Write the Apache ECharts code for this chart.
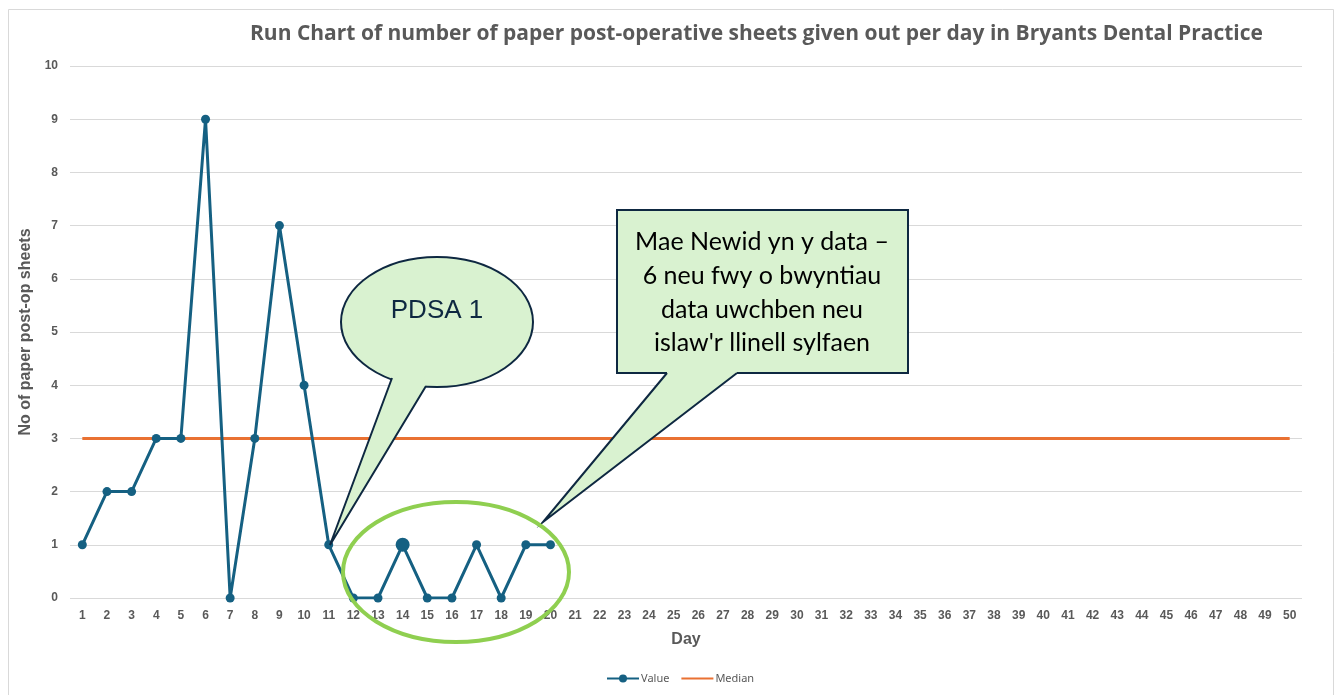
<!DOCTYPE html>
<html>
<head>
<meta charset="utf-8">
<script src="https://cdn.jsdelivr.net/npm/echarts@6/dist/echarts.min.js"></script>
<style>
html,body{margin:0;padding:0;background:#fff;}
#main{width:1339px;height:695px;}
</style>
</head>
<body>
<div id="main"></div>
<script>
const days = ['1','2','3','4','5','6','7','8','9','10','11','12','13','14','15','16','17','18','19','20','21','22','23','24','25','26','27','28','29','30','31','32','33','34','35','36','37','38','39','40','41','42','43','44','45','46','47','48','49','50'];
const values = [1,2,2,3,3,9,0,3,7,4,1,0,0,1,0,0,1,0,1,1];
const median = [3,3,3,3,3,3,3,3,3,3,3,3,3,3,3,3,3,3,3,3,3,3,3,3,3,3,3,3,3,3,3,3,3,3,3,3,3,3,3,3,3,3,3,3,3,3,3,3,3,3];
const yTicks = [0,1,2,3,4,5,6,7,8,9,10];
const titleText = 'Run Chart of number of paper post-operative sheets given out per day in Bryants Dental Practice';
const calloutPDSA = 'PDSA 1';
const calloutChange = ['Mae Newid yn y data \u2013', '6 neu fwy o bwyntiau', 'data uwchben neu', "islaw'r llinell sylfaen"];

const chart = echarts.init(document.getElementById('main'), null, {renderer:'canvas'});
const grey = '#595959';
const calloutFill = '#d9f2d0';
const calloutStroke = '#0e2841';

const option = {
  backgroundColor: '#fff',
  animation: false,
  title: {
    text: titleText,
    left: 245, top: 19,
    textStyle: {fontFamily: 'Open Sans', fontWeight: 'bold', fontSize: 21, color: grey}
  },
  legend: {
    left: 601, bottom: 6,
    itemWidth: 32, itemHeight: 10, itemGap: 11,
    textStyle: {fontSize: 11, color: grey, fontFamily: 'Noto Sans', padding: [0, 0, 0, -3]},
    data: [{name: 'Value'}, {name: 'Median', itemStyle: {opacity: 0}}]
  },
  grid: {left: 70, right: 37, top: 66, bottom: 97},
  xAxis: {
    type: 'category',
    data: days,
    boundaryGap: true,
    name: 'Day',
    nameLocation: 'middle',
    nameGap: 34,
    nameTextStyle: {fontFamily: 'Liberation Sans', fontWeight: 'bold', fontSize: 16, color: grey},
    axisLine: {show: false},
    axisTick: {show: false},
    axisLabel: {interval: 0, margin: 12, fontFamily: 'Liberation Sans', fontWeight: 'bold', fontSize: 12, color: grey}
  },
  yAxis: {
    type: 'value',
    min: yTicks[0], max: yTicks[yTicks.length - 1], interval: 1,
    name: 'No of paper post-op sheets',
    nameLocation: 'middle',
    nameRotate: 90,
    nameGap: 33,
    nameTextStyle: {fontFamily: 'Liberation Sans', fontWeight: 'bold', fontSize: 16, color: grey},
    axisLine: {show: false},
    axisTick: {show: false},
    axisLabel: {margin: 12, fontFamily: 'Liberation Sans', fontWeight: 'bold', fontSize: 12, color: grey},
    splitLine: {lineStyle: {color: '#d9d9d9', width: 1}}
  },
  series: [
    {
      name: 'Value', type: 'line', data: values,
      color: '#156082',
      symbol: 'circle',
      symbolSize: function (v, p) { return p.dataIndex === 13 ? 14 : 9; },
      lineStyle: {width: 3, color: '#156082'},
      itemStyle: {color: '#156082'},
      z: 3
    },
    {
      name: 'Median', type: 'line', data: median,
      color: '#e97132',
      symbol: 'none',
      lineStyle: {width: 3, color: '#e97132'},
      z: 2
    }
  ],
  graphic: [
    {type: 'rect', shape: {x: 8.5, y: 9.5, width: 1325, height: 700}, style: {fill: 'none', stroke: '#d9d9d9', lineWidth: 1}, z: 0, silent: true},
    {type: 'ellipse', shape: {cx: 437, cy: 322, rx: 96, ry: 65}, style: {fill: calloutFill, stroke: calloutStroke, lineWidth: 2}, z: 100},
    {type: 'polygon', shape: {points: [[392,378],[330,545],[426,386],[424,374],[394,368]]}, style: {fill: calloutFill, stroke: 'none'}, z: 101},
    {type: 'polyline', shape: {points: [[392,378],[330,545],[426,386]]}, style: {fill: 'none', stroke: calloutStroke, lineWidth: 2}, z: 102},
    {type: 'text', x: 437, y: 311, style: {text: calloutPDSA, fill: calloutStroke, font: '26px "Liberation Sans"', align: 'center', verticalAlign: 'middle'}, z: 103},
    {type: 'rect', shape: {x: 617, y: 210, width: 291, height: 163}, style: {fill: calloutFill, stroke: calloutStroke, lineWidth: 2}, z: 100},
    {type: 'polygon', shape: {points: [[667,373],[543,522],[737,373],[737,369],[667,369]]}, style: {fill: calloutFill, stroke: 'none'}, z: 101},
    {type: 'polyline', shape: {points: [[667,373],[543,522],[737,373]]}, style: {fill: 'none', stroke: calloutStroke, lineWidth: 2}, z: 102},
    {type: 'text', x: 762, y: 242, style: {text: calloutChange[0], fill: '#000', font: '25px Lato', align: 'center', verticalAlign: 'middle'}, z: 103},
    {type: 'text', x: 762, y: 276, style: {text: calloutChange[1], fill: '#000', font: '25px Lato', align: 'center', verticalAlign: 'middle'}, z: 103},
    {type: 'text', x: 762, y: 310, style: {text: calloutChange[2], fill: '#000', font: '25px Lato', align: 'center', verticalAlign: 'middle'}, z: 103},
    {type: 'text', x: 762, y: 343, style: {text: calloutChange[3], fill: '#000', font: '25px Lato', align: 'center', verticalAlign: 'middle'}, z: 103},
    {type: 'ellipse', shape: {cx: 456, cy: 572, rx: 113, ry: 70}, style: {fill: 'none', stroke: '#8fcf50', lineWidth: 4}, z: 104}
  ]
};
chart.setOption(option);
</script>
</body>
</html>
